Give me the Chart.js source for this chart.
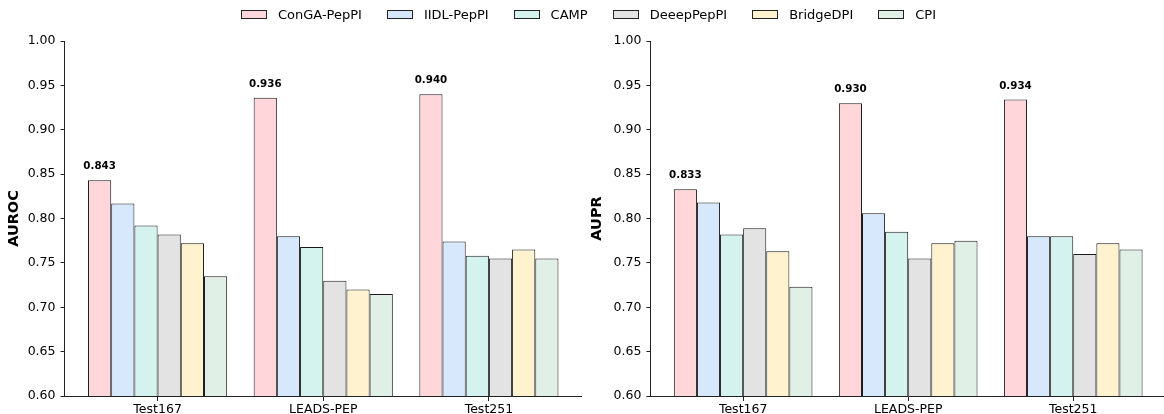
<!DOCTYPE html>
<html>
<head>
<meta charset="utf-8">
<script src="https://cdn.jsdelivr.net/npm/chart.js@4.4.1/dist/chart.umd.min.js"></script>
<style>
    html, body { margin: 0; padding: 0; background: #fff; overflow: hidden; }
    body { width: 1164px; height: 414px; position: relative; font-family: "DejaVu Sans", sans-serif; }
    #legend { position: absolute; top: 7px; left: 0; width: 1177px; display: flex; justify-content: center; gap: 25px; font-size: 13px; color: #000; }
    #legend .item { display: flex; align-items: center; }
    #legend .box { width: 24px; height: 7px; border: 1px solid #222; margin-right: 11px; }
    .wrap { position: absolute; top: 0; height: 414px; }
    #leftWrap { left: 0; width: 582px; }
    #rightWrap { left: 582px; width: 584px; }
</style>
</head>
<body>
<div id="leftWrap" class="wrap"><canvas id="aurocChart"></canvas></div>
<div id="rightWrap" class="wrap"><canvas id="auprChart"></canvas></div>
<div id="legend"></div>
<script>
// test sets and models
const categories = ["Test167", "LEADS-PEP", "Test251"];
const models = ["ConGA-PepPI", "IIDL-PepPI", "CAMP", "DeeepPepPI", "BridgeDPI", "CPI"];
const colors = ["#ffd7da", "#d7e8fc", "#d4f2ee", "#e3e3e3", "#fff3cf", "#e1f0e7"];
const yTicks = [0.60, 0.65, 0.70, 0.75, 0.80, 0.85, 0.90, 0.95, 1.00];

// AUROC
const aurocConGA = [0.843, 0.936, 0.940];
const aurocIIDL = [0.817, 0.780, 0.774];
const aurocCAMP = [0.792, 0.768, 0.758];
const aurocDeeep = [0.782, 0.730, 0.755];
const aurocBridge = [0.772, 0.720, 0.765];
const aurocCPI = [0.735, 0.715, 0.755];

// AUPR
const auprConGA = [0.833, 0.930, 0.934];
const auprIIDL = [0.818, 0.806, 0.780];
const auprCAMP = [0.782, 0.785, 0.780];
const auprDeeep = [0.789, 0.755, 0.760];
const auprBridge = [0.763, 0.772, 0.772];
const auprCPI = [0.723, 0.775, 0.765];

const FONT = "'DejaVu Sans', sans-serif";

// html legend shared by both panels
const legendEl = document.getElementById("legend");
models.forEach(function (m, i) {
    const item = document.createElement("div");
    item.className = "item";
    const box = document.createElement("span");
    box.className = "box";
    box.style.background = colors[i];
    const txt = document.createElement("span");
    txt.textContent = m;
    item.appendChild(box);
    item.appendChild(txt);
    legendEl.appendChild(item);
});

// bold value over the first model's bars
const topLabels = {
    id: "topLabels",
    afterDatasetsDraw(chart) {
        const ctx = chart.ctx;
        const meta = chart.getDatasetMeta(0);
        const values = chart.data.datasets[0].data;
        ctx.save();
        ctx.font = "bold 10.3px " + FONT;
        ctx.fillStyle = "#000";
        ctx.textAlign = "center";
        ctx.textBaseline = "alphabetic";
        meta.data.forEach(function (bar, i) {
            ctx.fillText(values[i].y.toFixed(3), bar.x, bar.y - 11);
        });
        ctx.restore();
    }
};

function makeChart(id, title, series, yAxisWidth, titlePad) {
    const ctx = document.getElementById(id).getContext("2d");
    return new Chart(ctx, {
        type: "bar",
        data: {
            datasets: series.map(function (vals, i) {
                return {
                    label: models[i],
                    data: vals.map(function (v, j) { return { x: j, y: v }; }),
                    backgroundColor: colors[i],
                    borderColor: "#1a1a1a",
                    borderWidth: 1,
                    borderSkipped: false,
                    categoryPercentage: 0.84,
                    barPercentage: 1.0
                };
            })
        },
        options: {
            responsive: true,
            maintainAspectRatio: false,
            animation: false,
            layout: { padding: { top: 41, right: 0, bottom: 0, left: 0 } },
            plugins: {
                legend: { display: false },
                tooltip: { enabled: false }
            },
            scales: {
                x: {
                    type: "linear",
                    offset: false,
                    min: -0.562,
                    max: 2.562,
                    afterBuildTicks: function (scale) {
                        scale.ticks = categories.map(function (c, i) { return { value: i }; });
                    },
                    afterFit: function (scale) { scale.height = 18; },
                    ticks: {
                        callback: function (v) { return categories[v]; },
                        font: { family: FONT, size: 12.5 },
                        color: "#000",
                        padding: 1,
                        maxRotation: 0,
                        autoSkip: false
                    },
                    grid: { offset: false, drawOnChartArea: false, drawTicks: true, tickLength: 5, color: "#222" },
                    border: { display: true, color: "#222", width: 1 }
                },
                y: {
                    min: 0.6,
                    max: 1.0,
                    afterBuildTicks: function (scale) {
                        scale.ticks = yTicks.map(function (v) { return { value: v }; });
                    },
                    afterFit: function (scale) { scale.width = yAxisWidth; },
                    ticks: {
                        callback: function (v) { return v.toFixed(2); },
                        font: { family: FONT, size: 12.5 },
                        color: "#000",
                        padding: 5
                    },
                    grid: { drawOnChartArea: false, drawTicks: true, tickLength: 4, color: "#222" },
                    border: { display: true, color: "#222", width: 1 },
                    title: {
                        display: true,
                        text: title,
                        font: { family: FONT, size: 14.5, weight: "bold" },
                        color: "#000",
                        padding: { top: titlePad, bottom: 0 }
                    }
                }
            }
        },
        plugins: [topLabels]
    });
}

makeChart("aurocChart", "AUROC",
    [aurocConGA, aurocIIDL, aurocCAMP, aurocDeeep, aurocBridge, aurocCPI], 64.5, 6);
makeChart("auprChart", "AUPR",
    [auprConGA, auprIIDL, auprCAMP, auprDeeep, auprBridge, auprCPI], 68.4, 7);
</script>
</body>
</html>
